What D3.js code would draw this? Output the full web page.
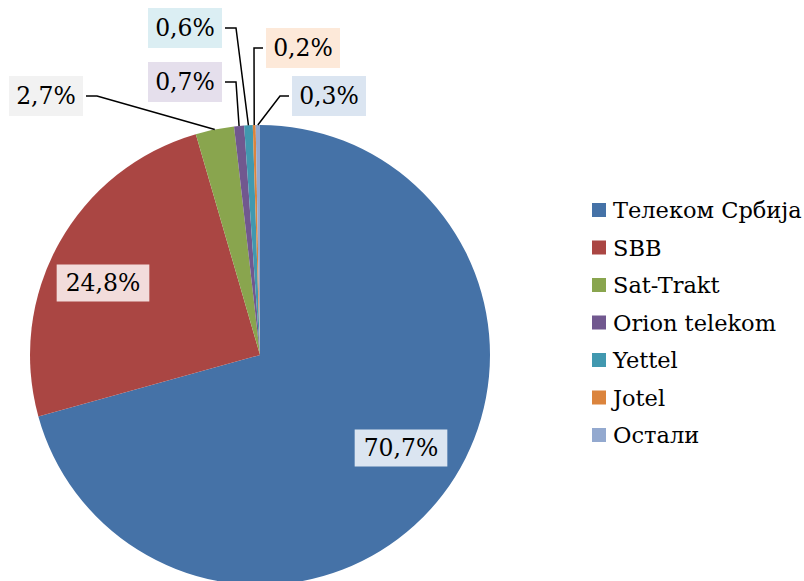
<!DOCTYPE html>
<meta charset="utf-8">
<style>
  body { margin: 0; background: #fff; }
  text { font-family: "DejaVu Serif", serif; }
</style>
<div id="chart"></div>
<script src="https://cdn.jsdelivr.net/npm/d3@7"></script>
<script>
    // data
    var names = ["Телеком Србија", "SBB", "Sat-Trakt", "Orion telekom", "Yettel", "Jotel", "Остали"];
    var shares = [70.7, 24.8, 2.7, 0.7, 0.6, 0.2, 0.3];
    var labels = ["70,7%", "24,8%", "2,7%", "0,7%", "0,6%", "0,2%", "0,3%"];

    var colors = ["#4572A7", "#AA4643", "#89A54E", "#71588F", "#4198AF", "#DB843D", "#93A9CF"];
    var tints = ["#dbe5f1", "#f2dcdb", "#f2f2f2", "#e5dfec", "#dbeef3", "#fde9d9", "#dbe5f1"];
    // label centre offsets from the pie centre; outside labels get a leader line
    var labelOffsets = [[141, 93], [-157, -72], [-214, -259], [-75, -273], [-75, -327], [43, -307], [69, -259]];
    var outside = [false, false, true, true, true, true, true];

    var width = 804, height = 581;
    var cx = 260, cy = 355, r = 230;

    var svg = d3.select("#chart").append("svg")
        .attr("width", width).attr("height", height);

    var g = svg.append("g").attr("transform", "translate(" + cx + "," + cy + ")");

    var pie = d3.pie().sort(null).value(function(d) { return d; });
    var arcs = pie(shares);
    var arc = d3.arc().innerRadius(0).outerRadius(r);

    g.selectAll("path.slice")
        .data(arcs)
        .enter()
        .append("path")
        .attr("class", "slice")
        .attr("d", arc)
        .style("fill", function(d, i) { return colors[i]; });

    // labels
    arcs.forEach(function(d, i) {
        var lx = labelOffsets[i][0], ly = labelOffsets[i][1];
        var lg = g.append("g");
        var box = lg.append("rect").style("fill", tints[i]);
        var t = lg.append("text")
            .attr("x", lx).attr("y", ly)
            .attr("text-anchor", "middle")
            .attr("dominant-baseline", "central")
            .style("font-size", "23.5px")
            .style("fill", "#000")
            .text(labels[i]);
        var bb = t.node().getBBox();
        var bw = outside[i] ? 74 : bb.width + 18;
        var bh = outside[i] ? 40 : 37;
        box.attr("x", lx - bw / 2).attr("y", ly - bh / 2).attr("width", bw).attr("height", bh);

        if (outside[i]) {
            // edge point at the middle of the slice
            var a = (d.startAngle + d.endAngle) / 2;
            var ex = Math.sin(a) * r, ey = -Math.cos(a) * r;
            var leftSide = lx < ex;
            var sx = leftSide ? lx + bw / 2 + 3 : lx - bw / 2 - 3;
            var kx = leftSide ? sx + 11 : sx - 9;
            g.append("polyline")
                .attr("points", [[sx, ly], [kx, ly], [ex, ey]].map(function(p) { return p.join(","); }).join(" "))
                .style("fill", "none")
                .style("stroke", "#000")
                .style("stroke-width", 1.5);
        }
    });

    // legend
    var legend = svg.append("g").attr("transform", "translate(592,210)");
    var rows = legend.selectAll("g")
        .data(names)
        .enter()
        .append("g")
        .attr("transform", function(d, i) { return "translate(0," + (i * 37.5) + ")"; });
    rows.append("rect")
        .attr("x", 0).attr("y", -7)
        .attr("width", 14).attr("height", 14)
        .style("fill", function(d, i) { return colors[i]; });
    rows.append("text")
        .attr("x", 21).attr("y", 0)
        .attr("dominant-baseline", "central")
        .style("font-size", "22.5px")
        .style("fill", "#000")
        .text(function(d) { return d; });
</script>
